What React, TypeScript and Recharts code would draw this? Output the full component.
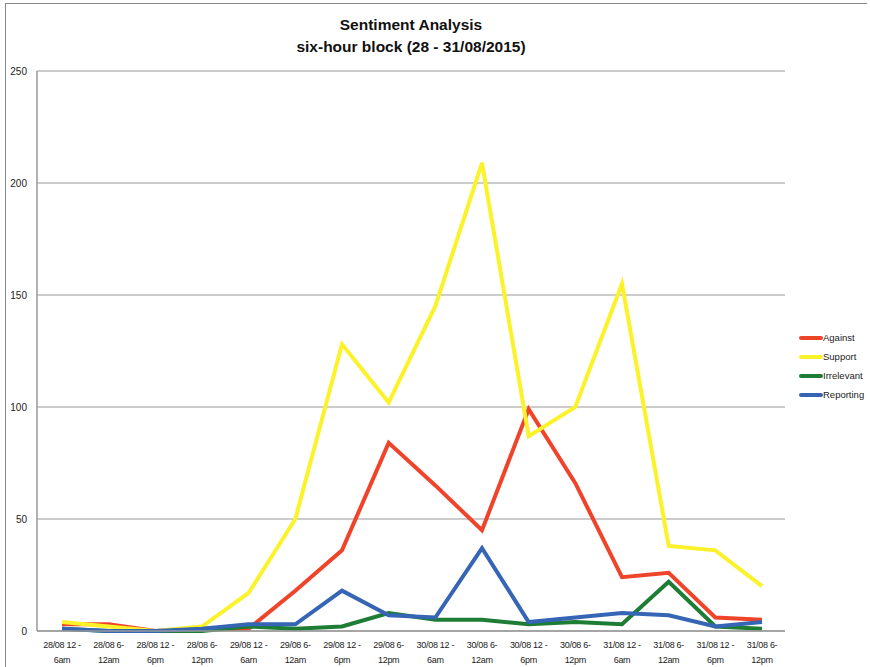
import { CartesianGrid, Line, LineChart, XAxis, YAxis } from 'recharts';

const blocks = [
  '28/08 12 -|6am', '28/08 6-|12am', '28/08 12 -|6pm', '28/08 6-|12pm',
  '29/08 12 -|6am', '29/08 6-|12am', '29/08 12 -|6pm', '29/08 6-|12pm',
  '30/08 12 -|6am', '30/08 6-|12am', '30/08 12 -|6pm', '30/08 6-|12pm',
  '31/08 12 -|6am', '31/08 6-|12am', '31/08 12 -|6pm', '31/08 6-|12pm',
];

const against = [3, 3, 0, 1, 1, 18, 36, 84, 65, 45, 99, 66, 24, 26, 6, 5];
const support = [4, 2, 0, 2, 17, 50, 128, 102, 145, 209, 87, 100, 155, 38, 36, 20];
const irrelevant = [1, 0, 0, 0, 2, 1, 2, 8, 5, 5, 3, 4, 3, 22, 2, 1];
const reporting = [1, 0, 0, 1, 3, 3, 18, 7, 6, 37, 4, 6, 8, 7, 2, 4];

const yTicks = [0, 50, 100, 150, 200, 250];

const series = [
  { key: 'Against', color: '#f0442a' },
  { key: 'Support', color: '#fcf22a' },
  { key: 'Irrelevant', color: '#1d7d34' },
  { key: 'Reporting', color: '#3565b4' },
];

const data = blocks.map((b, i) => ({
  block: b,
  Against: against[i],
  Support: support[i],
  Irrelevant: irrelevant[i],
  Reporting: reporting[i],
}));

const font = "'Liberation Sans Narrow', 'Liberation Sans', Arial, sans-serif";

function BlockTick({ x, y, payload }: any) {
  const [a, b] = String(payload.value).split('|');
  return (
    <text x={x} y={y} textAnchor='middle' fontSize={9} fill='#222' fontFamily={font} letterSpacing={-0.3}>
      <tspan x={x} dy={9}>{a}</tspan>
      <tspan x={x} dy={15}>{b}</tspan>
    </text>
  );
}

export default function App() {
  return (
    <div style={{ position: 'absolute', left: 0, top: 0, width: 870, height: 667, background: '#fff' }}>
      <div
        style={{
          position: 'absolute',
          left: 5,
          top: 3,
          width: 861,
          height: 664,
          borderLeft: '1px solid #888',
          borderTop: '1px solid #888',
        }}
      />
      <div
        style={{
          position: 'absolute',
          left: 211,
          top: 14,
          width: 400,
          textAlign: 'center',
          fontFamily: font,
          fontWeight: 'bold',
          fontSize: 15.5,
          lineHeight: '22px',
          color: '#111',
        }}
      >
        Sentiment Analysis
        <br />
        six-hour block (28 - 31/08/2015)
      </div>
      <LineChart
        width={870}
        height={667}
        data={data}
        margin={{ top: 71, right: 85, left: 12, bottom: 6 }}
      >
        <CartesianGrid vertical={false} stroke='#999' strokeWidth={1.2} />
        <XAxis
          dataKey='block'
          interval={0}
          height={30}
          padding={{ left: 25, right: 23 }}
          tickLine={false}
          axisLine={{ stroke: '#999', strokeWidth: 1.5 }}
          tick={<BlockTick />}
        />
        <YAxis
          width={25}
          domain={[0, 250]}
          ticks={yTicks}
          tickLine={false}
          tickSize={8}
          tickMargin={2}
          axisLine={{ stroke: '#999', strokeWidth: 1.5 }}
          tick={{ fontSize: 10, fill: '#222', fontFamily: font }}
        />
        {series.map((s) => (
          <Line
            key={s.key}
            dataKey={s.key}
            type='linear'
            stroke={s.color}
            strokeWidth={4}
            dot={false}
            isAnimationActive={false}
          />
        ))}
      </LineChart>
      <div style={{ position: 'absolute', left: 799, top: 328, fontFamily: font, fontSize: 9.5, color: '#222' }}>
        {series.map((s) => (
          <div key={s.key} style={{ display: 'flex', alignItems: 'center', height: 19 }}>
            <span style={{ display: 'inline-block', width: 24, height: 4, background: s.color, borderRadius: 2 }} />
            <span>{s.key}</span>
          </div>
        ))}
      </div>
    </div>
  );
}
